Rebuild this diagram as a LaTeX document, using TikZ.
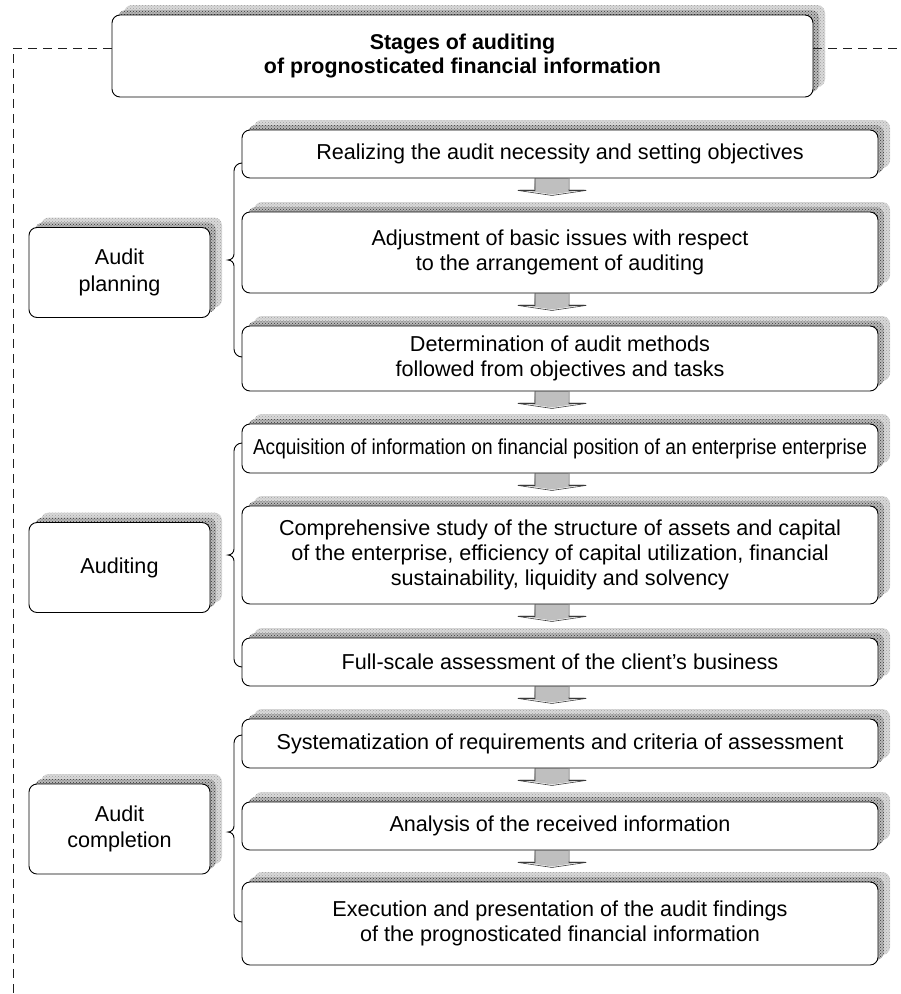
\documentclass[tikz,border=0pt]{standalone}
\usepackage{fontspec}
\setmainfont{Liberation Sans}
\usepackage{graphicx}
\usetikzlibrary{shadows,backgrounds,patterns}
\newcommand\bodyfs{\fontsize{21.6}{24.7}\selectfont}
\newcommand\leftfs{\fontsize{21.6}{26.5}\selectfont}
\newcommand\titlefs{\fontsize{21.4}{24}\selectfont\bfseries}
\newcommand\flowarrow[2]{%
  \fill[arrowfill] ([xshift=-25pt,yshift=1pt]#1.south) -- ++(33,0) -- ++(0,12) -- ++(18,0)
     -- ++(-34,5) -- ++(-34,-5) -- ++(16,0) -- cycle;
  \draw[arrowline] ([xshift=-25pt]#1.south) -- ++(0,12) -- ++(-17,0) -- ++(34,5) -- ++(34,-5) -- ++(-17,0) -- ++(0,-12);}
\newcommand\bracket[3]{%
  \draw[bracestyle] (242,#1) to[out=180,in=90] (234,{#1+8}) -- (234,{#2-6})
    to[out=-90,in=0] (228,#2) to[out=0,in=90] (234,{#2+6}) -- (234,{#3-8})
    to[out=-90,in=180] (242,#3);}
\begin{document}
\begin{tikzpicture}[x=1pt,y=-1pt,
  boxbase/.style={draw=black, line width=0.9pt, rounded corners=8pt, fill=white,
    inner sep=0pt, align=center,
    general shadow={shadow xshift=12pt, shadow yshift=10pt, fill=gray!30},
    general shadow={shadow xshift=12pt, shadow yshift=10pt, pattern=crosshatch dots, pattern color=gray!75},
    general shadow={shadow xshift=6pt, shadow yshift=5pt, fill=gray!55},
    general shadow={shadow xshift=6pt, shadow yshift=5pt, pattern=crosshatch dots, pattern color=gray!40!black}},
  rbox/.style={boxbase, minimum width=636pt, font=\bodyfs},
  lbox/.style={boxbase, minimum width=181pt, minimum height=90pt, font=\leftfs},
  tbox/.style={boxbase, minimum width=701pt, minimum height=82pt, font=\titlefs},
  arrowfill/.style={fill=gray!50},
  arrowline/.style={draw=gray!45!black, line width=0.6pt, line join=round},
  bracestyle/.style={draw=black, line width=0.9pt},
  dashline/.style={draw=gray!25!black, line width=0.8pt, dash pattern=on 9pt off 6pt}]
\useasboundingbox (0,0) rectangle (901,994);

% title
\node[tbox] (title) at (462.5,56) {Stages of auditing\\of prognosticated financial information};

% right column
\node[rbox, minimum height=48pt] (r1) at (560,154) {Realizing the audit necessity and setting objectives};
\node[rbox, minimum height=81pt] (r2) at (560,252.5) {Adjustment of basic issues with respect\\to the arrangement of auditing};
\node[rbox, minimum height=65pt] (r3) at (560,358.5) {Determination of audit methods\\followed from objectives and tasks};
\node[rbox, minimum height=49pt] (r4) at (560,448.5) {\resizebox{614pt}{\height}{Acquisition of information on financial position of an enterprise enterprise}};
\node[rbox, minimum height=98pt] (r5) at (560,555) {Comprehensive study of the structure of assets and capital\\of the enterprise, efficiency of capital utilization, financial\\sustainability, liquidity and solvency};
\node[rbox, minimum height=48pt] (r6) at (560,662) {Full-scale assessment of the client's business};
\node[rbox, minimum height=49pt] (r7) at (560,743.5) {Systematization of requirements and criteria of assessment};
\node[rbox, minimum height=48pt] (r8) at (560,826) {Analysis of the received information};
\node[rbox, minimum height=83pt] (r9) at (560,923.5) {Execution and presentation of the audit findings\\of the prognosticated financial information};

% left column
\node[lbox] (l1) at (119.5,272.5) {Audit\\planning};
\node[lbox] (l2) at (119.5,567.5) {Auditing};
\node[lbox] (l3) at (119.5,829) {Audit\\completion};

% flow arrows
\begin{scope}[on background layer]
\flowarrow{r1}{r2}
\flowarrow{r2}{r3}
\flowarrow{r3}{r4}
\flowarrow{r4}{r5}
\flowarrow{r5}{r6}
\flowarrow{r6}{r7}
\flowarrow{r7}{r8}
\flowarrow{r8}{r9}
\end{scope}

% braces
\bracket{163}{260}{357}
\bracket{443}{555}{667}
\bracket{735}{832}{922}

% dashed frame
\coordinate (dl) at (13,48);
\coordinate (db) at (13,994);
\coordinate (dr) at (901,48);
\draw[dashline] (title.west |- dl) -- (dl) -- (db);
\draw[dashline] (title.east |- dr) -- (dr);
\end{tikzpicture}
\end{document}
